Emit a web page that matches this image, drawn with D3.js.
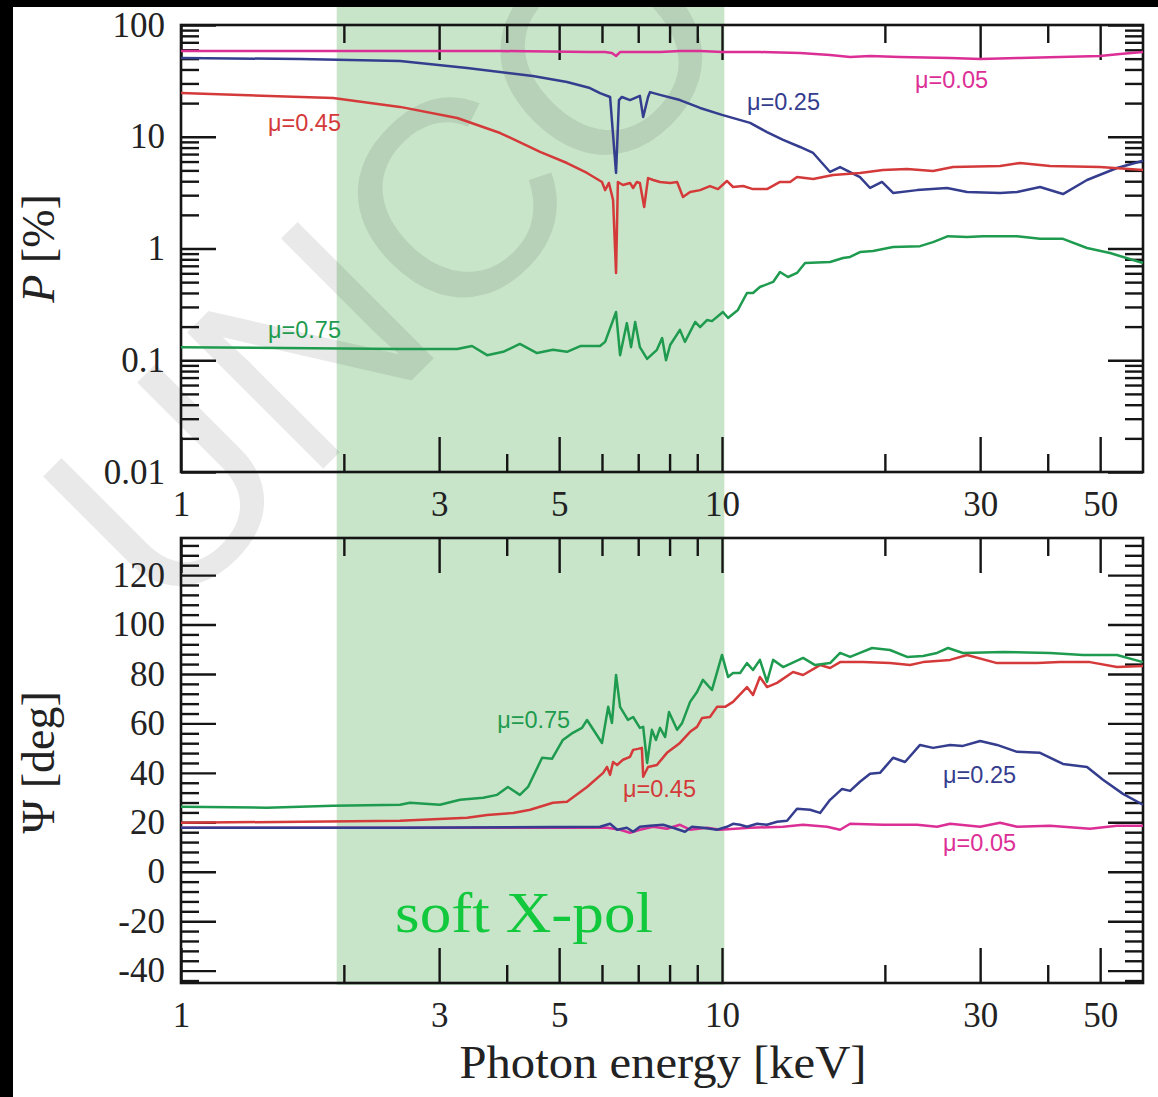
<!DOCTYPE html>
<html>
<head>
<meta charset="utf-8">
<title>Polarization degree and angle vs photon energy</title>
<style>
  body { margin: 0; background: #fff; }
  svg { display: block; }
</style>
</head>
<body>
<svg id="svg"></svg>
<script src="https://cdn.jsdelivr.net/npm/d3@7/dist/d3.min.js"></script>
<script>
// ---------- data ----------
const xLabelTicks = [1, 3, 5, 10, 30, 50]
const xMinorTicks = [2, 4, 6, 7, 8, 9, 20, 40]
const pMajorTicks = [0.01, 0.1, 1, 10, 100]
const psiMajorTicks = [-40, -20, 0, 20, 40, 60, 80, 100, 120]
const softBand = [1.94, 10.1]   // keV

// polarization degree P [%]  ([E keV, P])
const pMu005 = [[1, 58.5], [1.66, 58.5], [2.54, 58.5], [3.89, 58.5], [5.70, 57.3], [6.08, 57.3], [6.26, 56.1], [6.37, 52.8], [6.48, 57.3], [7.05, 57.3], [7.68, 57.3], [8.36, 58.5], [9.11, 58.5], [10, 57.3], [11.75, 57.3], [13.94, 56.1], [15.84, 53.9], [17.25, 51.7], [18.78, 52.8], [21.33, 51.7], [26.4, 50.7], [30, 49.6], [35.56, 50.7], [42.14, 51.7], [49.96, 52.8], [54.4, 55.0], [60, 57.3]]
const pMu025 = [[1, 50.7], [1.66, 49.6], [2.54, 47.6], [3.38, 41.2], [4.47, 35.0], [5.17, 30.9], [5.70, 27.3], [5.95, 24.6], [6.21, 22.7], [6.37, 4.74], [6.45, 21.3], [6.53, 22.7], [6.76, 21.3], [7.05, 23.2], [7.15, 15.0], [7.30, 22.7], [7.36, 25.1], [7.68, 23.7], [8.36, 21.3], [9.11, 18.1], [10, 15.7], [11.27, 13.3], [12.11, 11.0], [12.97, 9.36], [13.94, 8.10], [14.74, 7.16], [15.84, 4.84], [16.53, 5.36], [17.99, 4.36], [18.78, 3.48], [19.76, 3.94], [20.71, 3.14], [22.94, 3.33], [26.06, 3.48], [28.38, 3.20], [32.65, 3.14], [35.11, 3.20], [38.71, 3.55], [42.68, 3.07], [47.28, 4.10], [53.71, 5.25], [60, 6.1]]
const pMu045 = [[1, 24.6], [1.91, 22.2], [2.54, 18.5], [3.24, 14.7], [3.89, 10.8], [4.61, 7.31], [5.17, 5.82], [5.63, 4.74], [6.00, 3.94], [6.08, 3.33], [6.18, 3.86], [6.29, 2.72], [6.37, 0.604], [6.42, 3.94], [6.56, 3.70], [6.76, 3.86], [6.85, 3.48], [6.96, 3.94], [7.05, 3.86], [7.18, 2.35], [7.30, 4.27], [7.46, 4.10], [7.68, 3.94], [8.02, 3.86], [8.26, 3.94], [8.47, 2.89], [8.73, 3.20], [9.11, 3.33], [9.50, 3.62], [9.83, 3.40], [10.21, 4.02], [10.48, 3.55], [10.94, 3.62], [11.41, 3.40], [12.11, 3.40], [12.8, 3.94], [13.36, 3.94], [13.76, 4.36], [14.74, 4.19], [16.04, 4.55], [17.99, 4.74], [19.84, 5.04], [21.98, 5.14], [24.55, 4.94], [26.73, 5.36], [32.65, 5.47], [35.56, 5.82], [40.39, 5.47], [49.96, 5.36], [60, 5.04]]
const pMu075 = [[1, 0.131], [2.54, 0.126], [3.24, 0.126], [3.45, 0.134], [3.68, 0.111], [3.94, 0.119], [4.23, 0.140], [4.55, 0.116], [4.87, 0.124], [5.17, 0.119], [5.47, 0.134], [5.95, 0.134], [6.08, 0.146], [6.37, 0.270], [6.48, 0.111], [6.67, 0.215], [6.79, 0.131], [6.91, 0.220], [7.05, 0.131], [7.27, 0.103], [7.58, 0.124], [7.75, 0.158], [7.88, 0.100], [8.02, 0.137], [8.36, 0.187], [8.54, 0.146], [8.92, 0.220], [9.11, 0.198], [9.38, 0.229], [9.58, 0.224], [10.04, 0.270], [10.26, 0.239], [10.7, 0.282], [11.12, 0.400], [11.41, 0.400], [11.75, 0.452], [12.43, 0.502], [12.8, 0.616], [13.24, 0.556], [13.76, 0.604], [14.24, 0.741], [15.84, 0.757], [16.74, 0.822], [17.25, 0.840], [17.99, 0.930], [19.02, 0.950], [20.71, 1.03], [23.23, 1.05], [24.55, 1.14], [26.17, 1.29], [28.38, 1.27], [30.38, 1.29], [35.11, 1.29], [38.71, 1.22], [42.68, 1.22], [47.28, 1.01], [52.14, 0.912], [60, 0.741]]

// polarization angle Psi [deg]  ([E keV, Psi])
const psiMu005 = [[1, 17.8], [5.95, 17.8], [6.13, 17.8], [6.48, 17.0], [6.76, 15.8], [7.05, 17.0], [7.46, 18.2], [7.91, 17.4], [8.36, 19.0], [8.73, 17.0], [9.38, 17.8], [9.92, 17.0], [11.27, 17.8], [12.97, 18.2], [14.12, 19.0], [15.64, 18.2], [16.53, 17.0], [17.25, 19.4], [19.84, 19.0], [22.94, 19.0], [24.97, 18.2], [26.4, 19.4], [30, 18.2], [32.65, 19.8], [35.11, 18.2], [40.39, 18.6], [47.88, 17.4], [53.71, 18.6], [60, 18.6]]
const psiMu025 = [[1, 17.8], [2.54, 17.8], [5.95, 18.2], [6.21, 19.4], [6.40, 17.0], [6.67, 17.8], [6.85, 16.2], [7.05, 18.2], [7.36, 18.6], [7.78, 19.0], [8.12, 17.8], [8.54, 16.2], [8.80, 18.2], [9.22, 17.8], [9.79, 17.0], [10.21, 18.2], [10.48, 19.4], [10.8, 19.0], [11.12, 18.2], [11.61, 19.4], [12.11, 19.0], [12.64, 20.2], [13.19, 20.6], [13.76, 25.5], [14.55, 25.1], [15.18, 23.8], [15.84, 29.1], [16.67, 33.5], [17.25, 32.7], [17.99, 36.4], [18.78, 39.6], [19.59, 40.0], [20.71, 46.1], [21.79, 44.4], [23.23, 51.3], [24.55, 50.1], [26.4, 51.3], [27.88, 50.9], [30, 52.9], [32.24, 51.3], [35.11, 48.5], [38.71, 48.1], [42.68, 43.6], [47.28, 42.4], [50.6, 37.2], [55.1, 31.5], [60, 27.1]]
const psiMu045 = [[1, 19.8], [2.54, 20.6], [3.38, 21.8], [3.68, 23.0], [4.11, 23.8], [4.42, 25.1], [4.87, 27.9], [5.17, 28.3], [5.63, 34.3], [6.03, 40.0], [6.13, 42.4], [6.21, 39.2], [6.29, 44.4], [6.40, 43.2], [6.56, 45.3], [6.76, 46.5], [6.85, 49.3], [6.99, 49.7], [7.11, 50.1], [7.15, 38.4], [7.30, 42.4], [7.58, 43.2], [7.91, 48.1], [8.36, 52.1], [8.73, 56.6], [8.99, 58.6], [9.19, 62.2], [9.50, 62.6], [9.79, 66.7], [10.13, 66.7], [10.48, 68.7], [11.12, 74.7], [11.41, 71.5], [11.75, 78.8], [12.11, 74.7], [12.64, 76.4], [13.53, 80.8], [14.12, 79.6], [15.18, 83.6], [15.84, 82.4], [16.53, 84.8], [18.23, 84.8], [20.44, 84.4], [22.26, 83.6], [23.53, 84.8], [26.4, 85.7], [28.38, 87.7], [32.24, 84.4], [38.22, 84.4], [42.14, 84.8], [47.88, 84.8], [53.71, 82.8], [60, 83.2]]
const psiMu075 = [[1, 26.3], [1.44, 25.9], [1.91, 26.7], [2.54, 27.1], [2.65, 27.9], [3.01, 27.1], [3.28, 29.1], [3.62, 29.9], [3.84, 31.1], [4.02, 34.3], [4.23, 31.1], [4.38, 34.3], [4.65, 46.1], [4.85, 45.7], [5.08, 53.3], [5.30, 56.2], [5.51, 58.2], [5.63, 61.4], [6.00, 52.1], [6.16, 66.7], [6.26, 60.2], [6.37, 79.6], [6.48, 66.7], [6.70, 61.4], [6.85, 62.6], [7.05, 58.2], [7.15, 58.6], [7.27, 44.0], [7.42, 57.4], [7.55, 53.3], [7.68, 58.2], [7.85, 54.5], [7.98, 64.6], [8.26, 57.4], [8.44, 60.2], [8.73, 68.7], [8.99, 72.7], [9.22, 77.6], [9.58, 73.5], [10.0, 87.7], [10.26, 78.8], [10.48, 80.4], [10.8, 80.4], [11.12, 84.4], [11.41, 81.6], [11.75, 85.7], [12.11, 76.8], [12.43, 85.7], [12.97, 82.8], [14.12, 86.5], [14.86, 83.6], [15.84, 84.4], [16.53, 88.5], [17.25, 86.9], [17.99, 88.5], [18.94, 90.5], [20.44, 89.7], [21.98, 86.9], [23.53, 87.3], [24.97, 88.5], [26.17, 90.5], [27.88, 88.5], [33.07, 88.9], [40.39, 88.5], [46.48, 87.7], [53.71, 87.7], [60, 84.8]]

// curve labels: [text, E, value, mu]
const pLabels = [['μ=0.45', 1.448, 11.2, '0.45'], ['μ=0.25', 11.12, 17.4, '0.25'], ['μ=0.05', 22.74, 27.3, '0.05'], ['μ=0.75', 1.448, 0.158, '0.75']]
const psiLabels = [['μ=0.75', 3.84, 58.2, '0.75'], ['μ=0.45', 6.56, 30.3, '0.45'], ['μ=0.25', 25.62, 36.0, '0.25'], ['μ=0.05', 25.62, 8.3, '0.05']]

// ---------- layout ----------
const WIDTH = 1158
const HEIGHT = 1097
const LEFT = 181, RIGHT = 1143
const TOP1 = 25, BOT1 = 472
const TOP2 = 538, BOT2 = 983

const colors = {'0.05': '#dc2f96', '0.25': '#343d8e', '0.45': '#d43a3a', '0.75': '#1f9b4f'}
const serif = '"Liberation Serif", "DejaVu Serif", serif'
const sans = '"Liberation Sans", Arial, sans-serif'

const svg = d3.select('svg')
    .attr('width', WIDTH)
    .attr('height', HEIGHT)

svg.append('rect').attr('width', WIDTH).attr('height', HEIGHT).attr('fill', '#fff')

const x = d3.scaleLog().domain([1, 60]).range([LEFT, RIGHT])
const yP = d3.scaleLog().domain([0.01, 100]).range([BOT1, TOP1])
const yPsi = d3.scaleLinear().domain([-45, 135]).range([BOT2, TOP2])

// soft X-ray polarimetry band
svg.append('rect')
    .attr('x', x(softBand[0]))
    .attr('y', 0)
    .attr('width', x(softBand[1]) - x(softBand[0]))
    .attr('height', BOT2 + 2)
    .attr('fill', '#c8e5c9')

// watermark of the proof copy (only the first letters are on the page)
svg.append('text')
    .attr('transform', 'translate(164,628) rotate(-45)')
    .attr('font-family', sans)
    .attr('font-size', 280)
    .attr('fill', '#000')
    .attr('fill-opacity', 0.085)
    .text('UNCO')

function drawAxes(y, top, bottom, majorY, minorY, fmtY) {
    const g = svg.append('g')
    const axes = [
        [d3.axisBottom(x), bottom, xLabelTicks, 35, true],
        [d3.axisBottom(x), bottom, xMinorTicks, 18, false],
        [d3.axisTop(x), top, xLabelTicks, 35, false],
        [d3.axisTop(x), top, xMinorTicks, 18, false]
    ]
    axes.forEach(([ax, yy, vals, len, lab]) => {
        const a = g.append('g').attr('transform', `translate(0,${yy})`)
            .call(ax.tickValues(vals).tickSize(-len).tickPadding(19)
                .tickFormat(lab ? d3.format('d') : ''))
        a.select('.domain').remove()
    })
    const yaxes = [
        [d3.axisLeft(y), LEFT, majorY, 35, true],
        [d3.axisLeft(y), LEFT, minorY, 18, false],
        [d3.axisRight(y), RIGHT, majorY, 35, false],
        [d3.axisRight(y), RIGHT, minorY, 18, false]
    ]
    yaxes.forEach(([ax, xx, vals, len, lab]) => {
        const a = g.append('g').attr('transform', `translate(${xx},0)`)
            .call(ax.tickValues(vals).tickSize(-len).tickPadding(16)
                .tickFormat(lab ? fmtY : ''))
        a.select('.domain').remove()
    })
    g.selectAll('line').attr('stroke', '#151515').attr('stroke-width', 2.4)
    g.selectAll('text')
        .attr('font-family', serif)
        .attr('font-size', 35)
        .attr('fill', '#222')
    g.append('rect')
        .attr('x', LEFT).attr('y', top)
        .attr('width', RIGHT - LEFT).attr('height', bottom - top)
        .attr('fill', 'none').attr('stroke', '#151515').attr('stroke-width', 2.6)
}

// log minor ticks 2..9 each decade
const pMinorTicks = []
for (let d = 0.01; d < 100; d *= 10) {
    for (let k = 2; k <= 9; k++) pMinorTicks.push(+(d * k).toPrecision(3))
}
const psiMinorTicks = d3.range(-44, 135, 4).filter(v => v % 20 !== 0)

drawAxes(yP, TOP1, BOT1, pMajorTicks, pMinorTicks, d => String(d))
drawAxes(yPsi, TOP2, BOT2, psiMajorTicks, psiMinorTicks, d => String(d))

// curves
function drawCurves(y, seriesList) {
    const line = d3.line().x(d => x(d[0])).y(d => y(d[1]))
    svg.append('g')
        .selectAll('path')
        .data(seriesList)
        .enter().append('path')
        .attr('d', s => line(s.values))
        .attr('fill', 'none')
        .attr('stroke', s => colors[s.mu])
        .attr('stroke-width', 2.5)
        .attr('stroke-linejoin', 'round')
}
drawCurves(yP, [
    {mu: '0.05', values: pMu005},
    {mu: '0.25', values: pMu025},
    {mu: '0.45', values: pMu045},
    {mu: '0.75', values: pMu075}
])
drawCurves(yPsi, [
    {mu: '0.05', values: psiMu005},
    {mu: '0.25', values: psiMu025},
    {mu: '0.45', values: psiMu045},
    {mu: '0.75', values: psiMu075}
])

function drawLabels(y, labels) {
    svg.append('g')
        .selectAll('text')
        .data(labels)
        .enter().append('text')
        .attr('x', d => x(d[1]))
        .attr('y', d => y(d[2]))
        .attr('font-family', sans)
        .attr('font-size', 23.5)
        .attr('fill', d => colors[d[3]])
        .text(d => d[0])
}
drawLabels(yP, pLabels)
drawLabels(yPsi, psiLabels)

svg.append('text')
    .attr('x', x(2.487))
    .attr('y', yPsi(-24.2))
    .attr('font-family', serif)
    .attr('font-size', 56)
    .attr('textLength', 258)
    .attr('lengthAdjust', 'spacingAndGlyphs')
    .attr('fill', '#12c83c')
    .text('soft X-pol')

// axis titles
const pTitle = svg.append('text')
    .attr('transform', `translate(54,${(TOP1 + BOT1) / 2}) rotate(-90)`)
    .attr('text-anchor', 'middle')
    .attr('font-family', serif)
    .attr('font-size', 46)
    .attr('fill', '#222')
pTitle.append('tspan').attr('font-style', 'italic').text('P')
pTitle.append('tspan').text(' [%]')

svg.append('text')
    .attr('transform', `translate(54,${(TOP2 + BOT2) / 2 + 2}) rotate(-90)`)
    .attr('text-anchor', 'middle')
    .attr('font-family', serif)
    .attr('font-size', 46)
    .attr('fill', '#222')
    .text('Ψ [deg]')

svg.append('text')
    .attr('x', (LEFT + RIGHT) / 2 + 1)
    .attr('y', 1078)
    .attr('text-anchor', 'middle')
    .attr('font-family', serif)
    .attr('font-size', 47)
    .attr('textLength', 407)
    .attr('lengthAdjust', 'spacingAndGlyphs')
    .attr('fill', '#222')
    .text('Photon energy [keV]')

// black frame strips of the scan
svg.append('rect').attr('x', 0).attr('y', 0).attr('width', 13).attr('height', HEIGHT).attr('fill', '#000')
svg.append('rect').attr('x', 0).attr('y', 0).attr('width', WIDTH).attr('height', 7).attr('fill', '#000')
</script>
</body>
</html>
